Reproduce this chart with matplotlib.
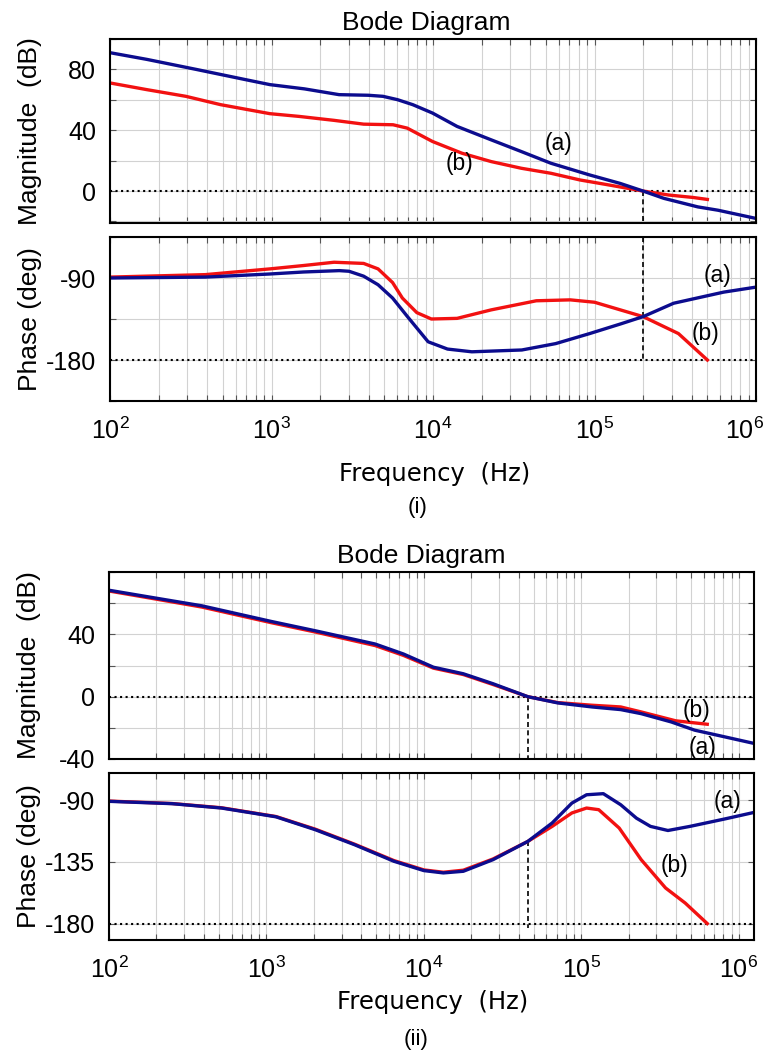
import matplotlib
matplotlib.use('Agg')
import matplotlib.pyplot as plt
from matplotlib.ticker import LogLocator, NullFormatter
from matplotlib.transforms import ScaledTranslation

plt.rcParams['font.family'] = ['Liberation Sans', 'DejaVu Sans']
plt.rcParams['mathtext.fontset'] = 'custom'
plt.rcParams['mathtext.rm'] = 'Liberation Sans'

BLUE = '#0c0c8e'
RED = '#f21111'

decades = [1e2, 1e3, 1e4, 1e5, 1e6]
decade_labels = [r'$\mathregular{10^{%d}}$' % k for k in [2, 3, 4, 5, 6]]

# ---- (i) ----
f1_mag_a = [100, 169, 342, 689, 977, 1600, 2620, 3980, 4900, 6030, 7500, 9930, 14100,
            22900, 35200, 53700, 93300, 144500, 200000, 269000, 436000, 582000, 1000000]
mag1_a = [91, 86.6, 80, 73.3, 70, 67.2, 63.4, 63, 62.3, 60.1, 56.8, 51.3, 42.5,
          33.7, 26, 18.3, 10.6, 5, 0, -4.8, -10.4, -12.6, -18]
f1_mag_b = [100, 169, 295, 485, 977, 1480, 2440, 3720, 5660, 6920, 9930, 15100, 22900,
            35200, 53700, 81300, 123000, 200000, 288000, 407000, 500000]
mag1_b = [71.1, 66.7, 62.3, 56.8, 50.9, 49.1, 46.5, 44, 43.6, 41.4, 32.6, 24.9, 19.4,
          15, 11.7, 7.3, 4, 0, -2.6, -4.2, -5.5]

f1_ph_a = [100, 389, 977, 1580, 2630, 3020, 3720, 4570, 5620, 6920, 9330, 12300, 17400,
           35500, 57500, 93300, 144500, 200000, 309000, 631000, 1000000]
ph1_a = [-90, -89, -85.6, -83.4, -81.9, -82.6, -88, -97.4, -112, -132, -160, -168, -171,
         -169, -162, -151, -140.5, -132.4, -117.7, -105.5, -100]
f1_ph_b = [100, 389, 977, 1580, 2440, 3720, 4570, 5620, 6460, 7940, 9770, 14100, 22900,
           43600, 70800, 100000, 200000, 331000, 500000]
ph1_b = [-89, -86.3, -80, -76.3, -72.7, -74, -80, -95, -112, -128, -135, -134.3, -125,
         -115, -114, -116.6, -132.4, -151, -180]
fc1 = 200000

# ---- (ii) ----
f2_mag_a = [100, 189, 389, 1070, 2040, 4900, 7410, 11500, 17800, 27500, 45700, 70800,
            117000, 178000, 240000, 372000, 525000, 759000, 1250000]
mag2_a = [68.3, 63.6, 58.3, 48.3, 42.3, 33.8, 27.4, 18.9, 14.7, 8.3, 0, -4,
          -6.6, -8.3, -10.9, -16.2, -21.5, -25.1, -30]
f2_mag_b = [100, 189, 389, 1070, 2040, 4900, 7410, 11500, 17800, 27500, 45700, 70800,
            117000, 178000, 240000, 398000, 631000]
mag2_b = [67.8, 63, 57.5, 47.5, 41.5, 32.8, 26.5, 18.3, 14.2, 7.8, 0, -3.8,
          -5.5, -6.6, -9.8, -15.5, -17.7]

f2_ph_a = [100, 251, 519, 1150, 2040, 3630, 6460, 10000, 13300, 17800, 27500, 45700,
           65300, 87100, 108000, 138000, 178000, 224000, 275000, 355000, 490000, 813000, 1250000]
ph2_a = [-90.7, -92.4, -95.6, -102, -111.4, -122.4, -134.5, -141.3, -143, -141.8, -133.3, -120,
         -106.5, -92, -85.9, -85.1, -93.2, -103, -109, -112, -109, -103.6, -98.8]
f2_ph_b = [100, 251, 519, 1150, 2040, 3630, 6460, 10000, 13300, 17800, 27500, 45700,
           65300, 87100, 108000, 129000, 174000, 240000, 343000, 457000, 631000]
ph2_b = [-90.5, -92.3, -95.4, -101.8, -111, -122, -134, -140.8, -142.5, -141, -132.8, -120,
         -109, -99.2, -95.6, -96.8, -110.2, -133.3, -154, -165, -180]
fc2 = 45700

W, H = 768, 1057
fig = plt.figure(figsize=(W / 100, H / 100), dpi=100)


def add_ax(l, t, r, b):
    return fig.add_axes([l / W, 1 - b / H, (r - l) / W, (b - t) / H])


def style(ax, xmax, ylim, yticks, ylabels, ylabel, show_x):
    ax.set_xscale('log')
    ax.set_xticks(decades, decade_labels)
    ax.xaxis.set_minor_locator(LogLocator(base=10, subs=range(2, 10), numticks=40))
    ax.xaxis.set_minor_formatter(NullFormatter())
    ax.set_xlim(100, xmax)
    ax.set_ylim(*ylim)
    ax.set_yticks(yticks, ylabels)
    ax.grid(which='both', color='#d2d2d2', lw=0.8)
    ax.set_axisbelow(True)
    ax.tick_params(which='both', direction='in', top=True, right=True,
                   length=4, width=0.8, color='#555555')
    ax.tick_params(axis='y', labelsize=18, pad=10)
    ax.tick_params(axis='x', labelsize=18, pad=12, labelbottom=show_x)
    for s in ax.spines.values():
        s.set_linewidth(1.5)
    ax.set_ylabel(ylabel, fontsize=19)
    ax.yaxis.set_label_coords(-0.106, 0.5)


def label(ax, x, y, s):
    ax.text(x, y, s, fontsize=16.5, ha='center', va='center')


# ---------- (i) magnitude ----------
ax = add_ax(110, 39, 756, 223)
style(ax, 1e6, (-21, 100), [-20, 0, 20, 40, 60, 80, 100],
      ['', '0', '', '40', '', '80', ''], 'Magnitude  (dB)', False)
ax.axhline(0, color='black', ls=':', lw=1.5)
ax.plot([fc1, fc1], [0, -21], color='black', ls=(0, (3, 2)), lw=1.2)
ax.plot(f1_mag_b, mag1_b, color=RED, lw=2.4)
ax.plot(f1_mag_a, mag1_a, color=BLUE, lw=2.4)
label(ax, 6.0e4, 31.5, '(a)')
label(ax, 1.46e4, 18.4, '(b)')
fig.text(426 / W, 1 - 30 / H, 'Bode Diagram', fontsize=19, ha='center', va='baseline')

# ---------- (i) phase ----------
ax = add_ax(110, 237, 756, 401)
style(ax, 1e6, (-225, -45), [-225, -180, -135, -90, -45],
      ['', '-180', '', '-90', ''], 'Phase (deg)', True)
ax.axhline(-180, color='black', ls=':', lw=1.5)
ax.plot([fc1, fc1], [-45, -180], color='black', ls=(0, (3, 2)), lw=1.2)
ax.plot(f1_ph_b, ph1_b, color=RED, lw=2.4)
ax.plot(f1_ph_a, ph1_a, color=BLUE, lw=2.4)
label(ax, 5.75e5, -87.8, '(a)')
label(ax, 4.84e5, -150.4, '(b)')
ax.set_xlabel('Frequency  (Hz)', fontsize=17.5, family='DejaVu Sans')
ax.xaxis.set_label_coords(0.502, -0.37)
ax.xaxis.label.set_va('top')
# keep the last decade label inside the figure, as in the original
last = ax.xaxis.get_major_ticks()[-1].label1
last.set_transform(last.get_transform() + ScaledTranslation(-11 / 100, 0, fig.dpi_scale_trans))
fig.text(418 / W, 1 - 508 / H, '(i)', fontsize=16, ha='center', va='center')

# ---------- (ii) magnitude ----------
ax = add_ax(109, 572, 754, 759)
style(ax, 1.25e6, (-40, 80), [-40, -20, 0, 20, 40, 60, 80],
      ['-40', '', '0', '', '40', '', ''], 'Magnitude  (dB)', False)
ax.axhline(0, color='black', ls=':', lw=1.5)
ax.plot([fc2, fc2], [0, -40], color='black', ls=(0, (3, 2)), lw=1.2)
ax.plot(f2_mag_b, mag2_b, color=RED, lw=2.4)
ax.plot(f2_mag_a, mag2_a, color=BLUE, lw=2.4)
label(ax, 5.4e5, -8.9, '(b)')
label(ax, 5.9e5, -32.4, '(a)')
fig.text(421 / W, 1 - 563 / H, 'Bode Diagram', fontsize=19, ha='center', va='baseline')

# ---------- (ii) phase ----------
ax = add_ax(109, 773, 754, 940)
style(ax, 1.25e6, (-192, -70), [-180, -135, -90],
      ['-180', '-135', '-90'], 'Phase (deg)', True)
ax.axhline(-180, color='black', ls=':', lw=1.5)
ax.plot([fc2, fc2], [-120, -183], color='black', ls=(0, (3, 2)), lw=1.2)
ax.plot(f2_ph_b, ph2_b, color=RED, lw=2.4)
ax.plot(f2_ph_a, ph2_a, color=BLUE, lw=2.4)
label(ax, 8.5e5, -91, '(a)')
label(ax, 3.9e5, -137.6, '(b)')
ax.set_xlabel('Frequency  (Hz)', fontsize=17.5, family='DejaVu Sans')
ax.xaxis.set_label_coords(0.502, -0.30)
ax.xaxis.label.set_va('top')
fig.text(416 / W, 1 - 1040 / H, '(ii)', fontsize=16, ha='center', va='center')

fig.savefig('out.png', dpi=100)
